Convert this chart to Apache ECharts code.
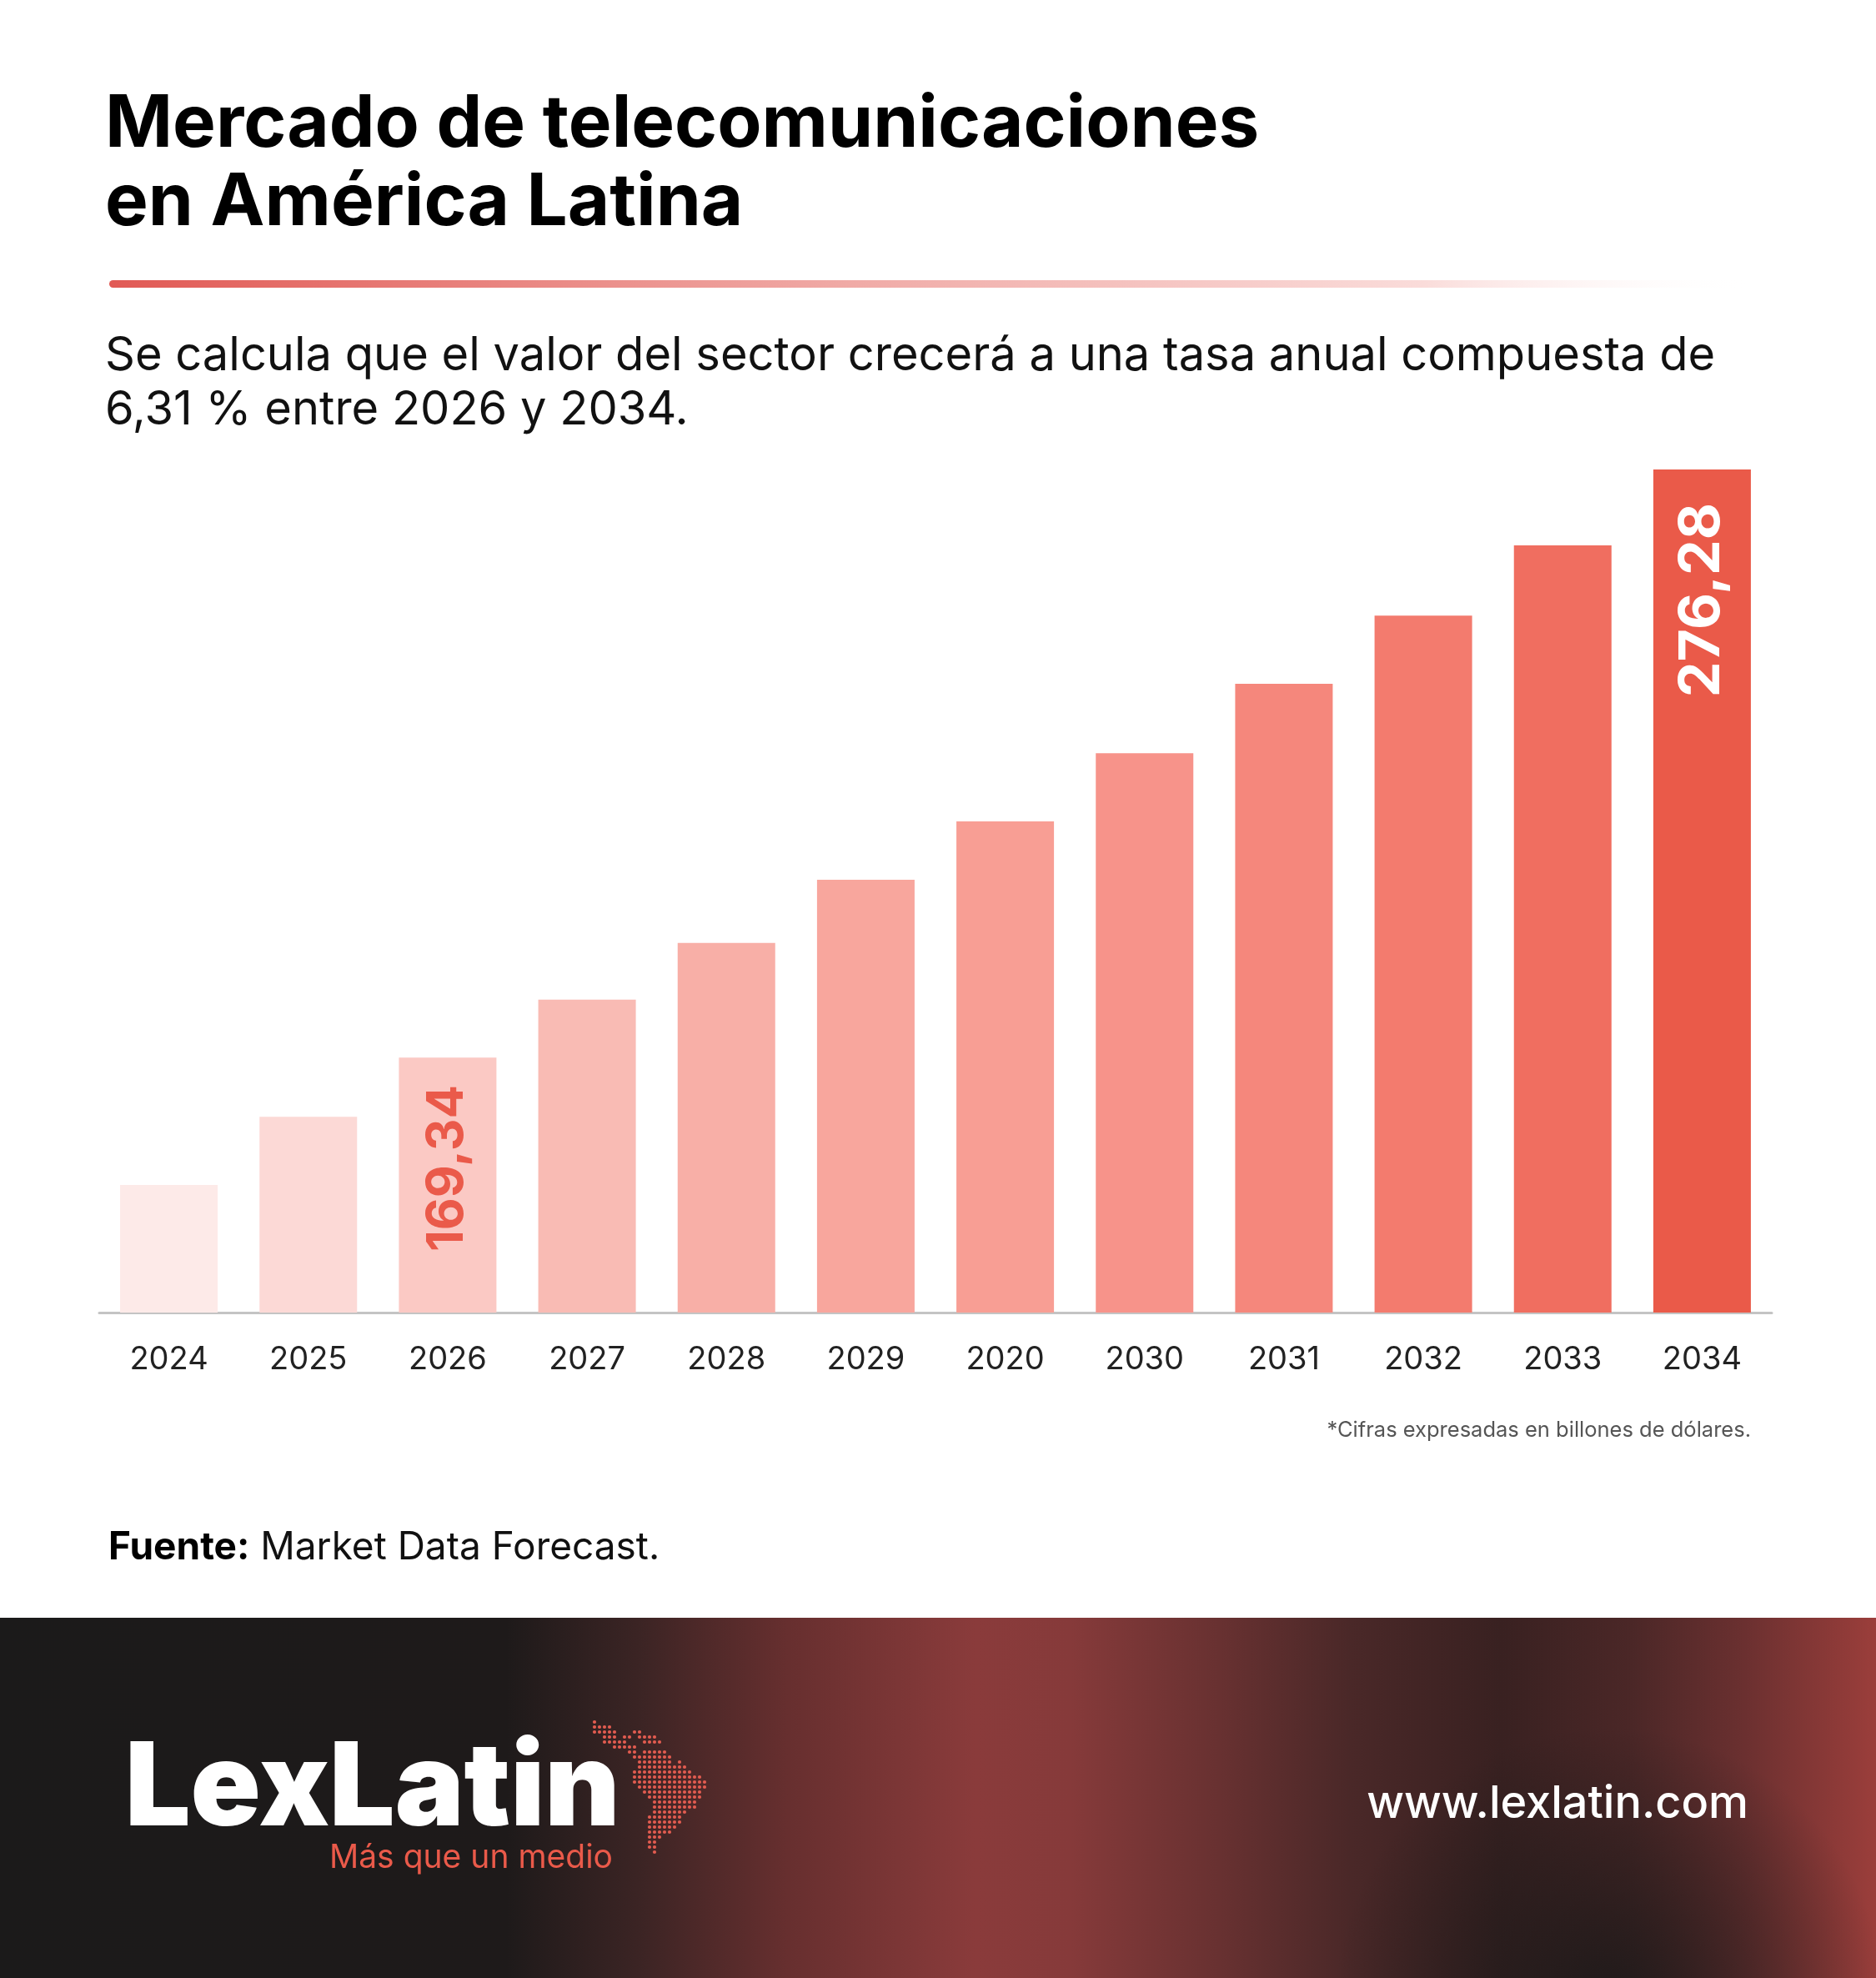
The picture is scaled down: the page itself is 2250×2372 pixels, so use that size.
<!DOCTYPE html>
<html>
<head>
<meta charset="utf-8">
<title>Mercado de telecomunicaciones en América Latina</title>
<script src="https://cdn.jsdelivr.net/npm/echarts@6/dist/echarts.min.js"></script>
<style>
  html, body { margin: 0; padding: 0; background: #fff; }
  #chart { width: 2250px; height: 2372px; }
</style>
</head>
<body>
<div id="chart"></div>
<script>
// datos del gráfico (billones de dólares)
const years = ['2024', '2025', '2026', '2027', '2028', '2029', '2020', '2030', '2031', '2032', '2033', '2034'];
const values = [146.2, 158.6, 169.34, 179.9, 190.2, 201.7, 212.3, 224.7, 237.3, 249.7, 262.5, 276.28];
const labeledYears = ['2026', '2034'];

// colores de las barras, de claro a oscuro
const barColors = ['#fdeae8', '#fcd9d6', '#fbc9c4', '#f9bbb4', '#f8afa7', '#f8a69d', '#f89e94', '#f7938a', '#f5877c', '#f37b6e', '#f06e60', '#ea5a49'];

// puntos del mapa del logo: [fila, columna inicio, columna fin]
const mapRows = [
  [0, 0, 0], [1, 0, 3], [2, 0, 4], [2, 8, 9], [3, 2, 4], [3, 6, 7], [3, 9, 12],
  [4, 2, 6], [4, 10, 13], [5, 4, 8], [6, 7, 8], [6, 10, 14], [7, 8, 15],
  [8, 9, 15], [8, 17, 17], [9, 9, 18], [10, 8, 19], [11, 8, 21], [12, 8, 22],
  [13, 9, 22], [14, 10, 21], [15, 11, 21], [16, 12, 20], [17, 12, 20],
  [18, 12, 18], [19, 11, 17], [20, 11, 17], [21, 11, 16], [22, 11, 15],
  [23, 11, 13], [24, 11, 12], [25, 11, 12], [26, 12, 12]
];

const font = 'Inter, "Noto Sans", sans-serif';
let chart = echarts.init(document.getElementById('chart'));

let seriesData = values.map(function (v, i) {
  let item = { value: v, itemStyle: { color: barColors[i] } };
  if (labeledYears.indexOf(years[i]) === 0) {
    item.label = {
      show: true, position: 'insideBottom', distance: 73, rotate: 90,
      align: 'left', verticalAlign: 'middle',
      color: '#ea5a4a', fontSize: 60, fontWeight: 'bold', fontFamily: font
    };
  } else if (labeledYears.indexOf(years[i]) === 1) {
    item.label = {
      show: true, position: 'insideTop', distance: 40, rotate: 90,
      align: 'right', verticalAlign: 'middle',
      color: '#ffffff', fontSize: 68, fontWeight: 'bold', fontFamily: font
    };
  }
  return item;
});

// puntos del logo
let dots = [];
mapRows.forEach(function (r) {
  for (let c = r[1]; c <= r[2]; c++) {
    dots.push({
      type: 'circle',
      shape: { cx: 713 + c * 6, cy: 2065 + r[0] * 6, r: 2.1 },
      style: { fill: '#e35c50' }
    });
  }
});

let option = {
  backgroundColor: '#ffffff',
  animation: false,
  grid: { left: 119, right: 125, top: 563, bottom: 798 },
  xAxis: {
    type: 'category',
    data: years,
    axisLine: { lineStyle: { color: '#c4c4c4', width: 3 } },
    axisTick: { show: false },
    axisLabel: { fontSize: 38, color: '#222', margin: 38, fontFamily: font }
  },
  yAxis: {
    type: 'value',
    min: 123,
    max: 276.28,
    show: false,
    splitLine: { show: false }
  },
  series: [{
    type: 'bar',
    barWidth: 117,
    data: seriesData,
    label: {
      formatter: function (p) { return String(p.value).replace('.', ','); }
    }
  }],
  graphic: [
    // título
    { type: 'text', left: 126, top: 106, style: { text: 'Mercado de telecomunicaciones', font: '700 87px ' + font, fill: '#000' } },
    { type: 'text', left: 126, top: 200, style: { text: 'en América Latina', font: '700 87px ' + font, fill: '#000' } },
    // línea degradada
    {
      type: 'rect', shape: { x: 131, y: 336, width: 1972, height: 9, r: 4.5 },
      style: {
        fill: new echarts.graphic.LinearGradient(0, 0, 1, 0, [
          { offset: 0, color: '#e15a55' },
          { offset: 0.45, color: '#f0aaa6' },
          { offset: 0.8, color: '#fadcda' },
          { offset: 1, color: 'rgba(255,255,255,0)' }
        ])
      }
    },
    // subtítulo
    { type: 'text', left: 126, top: 399, style: { text: 'Se calcula que el valor del sector crecerá a una tasa anual compuesta de', font: '400 56px ' + font, fill: '#111' } },
    { type: 'text', left: 126, top: 464, style: { text: '6,31 % entre 2026 y 2034.', font: '400 56px ' + font, fill: '#111' } },
    // nota
    { type: 'text', x: 2100, y: 1715, style: { text: '*Cifras expresadas en billones de dólares.', font: '400 25.5px ' + font, fill: '#555', align: 'right', verticalAlign: 'middle' } },
    // fuente
    {
      type: 'text', x: 130, y: 1856,
      style: {
        text: '{b|Fuente:} Market Data Forecast.',
        font: '400 46px ' + font, fill: '#111', verticalAlign: 'middle',
        rich: { b: { fontWeight: 700, fontSize: 46, fontFamily: font, fill: '#000' } }
      }
    },
    // pie
    {
      type: 'rect', shape: { x: 0, y: 1940, width: 2250, height: 432 },
      style: {
        fill: new echarts.graphic.LinearGradient(0, 0, 1, 0, [
          { offset: 0, color: '#1b1a1a' },
          { offset: 0.27, color: '#1e1a1a' },
          { offset: 0.34, color: '#3b2424' },
          { offset: 0.42, color: '#672f2f' },
          { offset: 0.52, color: '#8a3b3b' },
          { offset: 0.57, color: '#863a3a' },
          { offset: 0.65, color: '#683131' },
          { offset: 0.72, color: '#4a2828' },
          { offset: 0.8, color: '#392121' },
          { offset: 0.87, color: '#4b2727' },
          { offset: 0.93, color: '#6b3030' },
          { offset: 1, color: '#9b3e3b' }
        ])
      }
    },
    {
      type: 'rect', shape: { x: 1400, y: 1940, width: 850, height: 432 },
      style: {
        fill: new echarts.graphic.RadialGradient(1930, 2400, 330, [
          { offset: 0, color: 'rgba(24,24,24,0.85)' },
          { offset: 1, color: 'rgba(24,24,24,0)' }
        ], true)
      }
    },
    { type: 'text', x: 150, y: 2147, style: { text: 'LexLatin', font: '900 139px ' + font, fill: '#fff', verticalAlign: 'middle' } },
    { type: 'text', x: 735, y: 2228, style: { text: 'Más que un medio', font: '400 39px ' + font, fill: '#ea5a4a', align: 'right', verticalAlign: 'middle' } },
    { type: 'text', x: 2097, y: 2164, style: { text: 'www.lexlatin.com', font: '500 54px ' + font, fill: '#fff', align: 'right', verticalAlign: 'middle' } }
  ].concat(dots)
};

chart.setOption(option);
</script>
</body>
</html>
